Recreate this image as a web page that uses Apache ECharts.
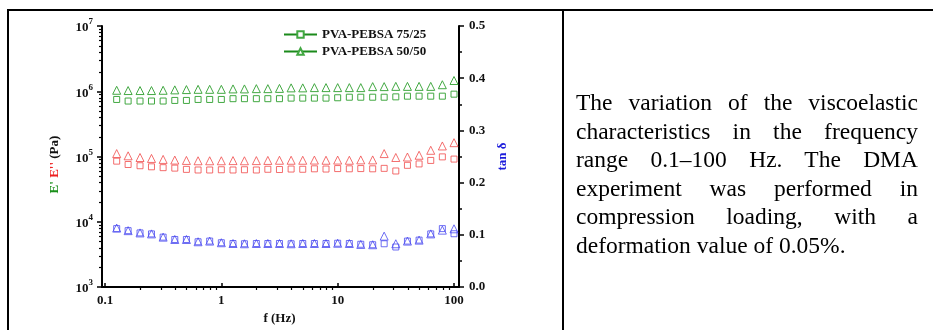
<!DOCTYPE html>
<html>
<head>
<meta charset="utf-8">
<title>DMA frequency sweep</title>
<script src="https://cdn.jsdelivr.net/npm/echarts@6.0.0/dist/echarts.min.js"></script>
<style>
    html, body { margin: 0; padding: 0; background: #fff; }
    #page { position: relative; width: 933px; height: 330px; overflow: hidden; background: #fff; }
    #main { position: absolute; left: 0; top: 0; width: 933px; height: 330px; }
    .rule { position: absolute; background: #000; }
    #caption {
        position: absolute; left: 576px; top: 88px; width: 342px;
        font-family: 'Liberation Serif', 'Times New Roman', serif;
        font-size: 23.5px; line-height: 28.5px; color: #000;
    }
    #caption .ln { display: block; text-align: justify; text-align-last: justify; }
    #caption .last { text-align: left; text-align-last: left; }
</style>
</head>
<body>
<div id="page">
    <div id="main"></div>
    <div class="rule" style="left:7px;top:9px;width:926px;height:2px"></div>
    <div class="rule" style="left:7px;top:9px;width:2px;height:321px"></div>
    <div class="rule" style="left:562px;top:9px;width:2px;height:321px"></div>
    <div id="caption">
        <span class="ln">The variation of the viscoelastic</span>
        <span class="ln">characteristics in the frequency</span>
        <span class="ln">range 0.1–100 Hz. The DMA</span>
        <span class="ln">experiment was performed in</span>
        <span class="ln">compression loading, with a</span>
        <span class="ln last">deformation value of 0.05%.</span>
    </div>
</div>
<script>
// frequency sweep, 10 points per decade (Hz)
var freq = [0.126, 0.158, 0.2, 0.251, 0.316, 0.398, 0.501, 0.631, 0.794, 1,
            1.26, 1.58, 2, 2.51, 3.16, 3.98, 5.01, 6.31, 7.94, 10,
            12.6, 15.8, 20, 25.1, 31.6, 39.8, 50.1, 63.1, 79.4, 100];

// E' storage modulus (Pa)
var storage7525 = [7.2e5, 6.8e5, 6.8e5, 6.8e5, 6.8e5, 6.95e5, 6.95e5, 7.2e5, 7.2e5, 7.2e5,
                   7.4e5, 7.4e5, 7.4e5, 7.4e5, 7.4e5, 7.55e5, 7.55e5, 7.55e5, 7.55e5, 7.65e5,
                   7.8e5, 7.8e5, 7.8e5, 7.8e5, 7.9e5, 8.1e5, 8.1e5, 8.1e5, 8.1e5, 8.7e5];
var storage5050 = [1.0e6, 0.99e6, 0.99e6, 0.99e6, 1.0e6, 1.015e6, 1.025e6, 1.035e6, 1.035e6, 1.035e6,
                   1.05e6, 1.05e6, 1.06e6, 1.06e6, 1.07e6, 1.09e6, 1.09e6, 1.1e6, 1.1e6, 1.1e6,
                   1.1e6, 1.1e6, 1.14e6, 1.14e6, 1.15e6, 1.15e6, 1.15e6, 1.15e6, 1.22e6, 1.42e6];

// E'' loss modulus (Pa)
var loss7525 = [7.9e4, 7.0e4, 6.7e4, 6.45e4, 6.25e4, 6.15e4, 5.88e4, 5.75e4, 5.75e4, 5.8e4,
                5.75e4, 5.8e4, 5.75e4, 5.9e4, 5.85e4, 5.95e4, 5.9e4, 6.0e4, 5.95e4, 6.05e4,
                6.0e4, 6.05e4, 6.0e4, 6.1e4, 5.55e4, 6.8e4, 7.15e4, 8.1e4, 9.2e4, 8.5e4];
var loss5050 = [1.035e5, 9.55e4, 9.0e4, 8.7e4, 8.4e4, 8.2e4, 8.1e4, 8.0e4, 8.0e4, 8.0e4,
                8.05e4, 8.0e4, 8.05e4, 8.1e4, 8.15e4, 8.15e4, 8.15e4, 8.2e4, 8.15e4, 8.2e4,
                8.15e4, 8.25e4, 8.25e4, 1.035e5, 9.0e4, 9.15e4, 9.75e4, 1.165e5, 1.36e5, 1.53e5];

// tan delta
var tan7525 = [0.106, 0.102, 0.0976, 0.0957, 0.0894, 0.0848, 0.0848, 0.0804, 0.0817, 0.0785,
               0.077, 0.0765, 0.077, 0.077, 0.077, 0.0765, 0.077, 0.077, 0.077, 0.0775,
               0.077, 0.0755, 0.0746, 0.0765, 0.0702, 0.0817, 0.0836, 0.0957, 0.106, 0.096];
var tan5050 = [0.107, 0.102, 0.0976, 0.0957, 0.0894, 0.0848, 0.0848, 0.0804, 0.0817, 0.0785,
               0.077, 0.0765, 0.077, 0.077, 0.077, 0.0765, 0.077, 0.077, 0.077, 0.0775,
               0.077, 0.0752, 0.0746, 0.0913, 0.0765, 0.0817, 0.0836, 0.0957, 0.103, 0.1056];

var names = ['PVA-PEBSA 75/25', 'PVA-PEBSA 50/50'];

var serif = "'Liberation Serif', 'Times New Roman', serif";
var green = '#42a842', red = '#f04a4a', blue = '#4a4af0';

function pairs(ys) {
    return freq.map(function (f, i) { return [f, ys[i]]; });
}

function markSeries(name, type, ys, symbol, size, color, yIndex) {
    return {
        name: name,
        type: type,
        xAxisIndex: 0,
        yAxisIndex: yIndex,
        data: pairs(ys),
        symbol: symbol,
        symbolSize: size,
        showSymbol: true,
        lineStyle: { opacity: 0 },
        itemStyle: { color: 'rgba(0,0,0,0)', borderColor: color, borderWidth: 1 },
        emphasis: { disabled: true },
        z: 3
    };
}

function txt(size, extra) {
    var o = { fontFamily: serif, fontWeight: 'bold', color: '#111', fontSize: size };
    for (var k in extra) o[k] = extra[k];
    return o;
}

var chart = echarts.init(document.getElementById('main'), null, { renderer: 'canvas' });

var option = {
    animation: false,
    backgroundColor: 'transparent',
    grid: [
        { left: 105, right: 479, top: 26, bottom: 43 },   // data area (0.1 .. 100 Hz)
        { left: 102, right: 474, top: 26, bottom: 43 }    // frame with both y axes
    ],
    legend: {
        data: names,
        orient: 'vertical',
        left: 278,
        top: 23,
        itemWidth: 33,
        itemHeight: 8,
        itemGap: 4,
        selectedMode: false,
        textStyle: txt(13),
        lineStyle: { color: '#1b8a1b', width: 2, opacity: 1 },
        itemStyle: { color: '#fff' }
    },
    xAxis: [{
        gridIndex: 0,
        type: 'log',
        min: 0.1,
        max: 100,
        splitNumber: 3,
        axisLine: { show: false },
        axisTick: { show: true, length: 5, lineStyle: { color: '#000', width: 1.5 } },
        axisLabel: txt(13, { margin: 11, formatter: function (v) { return String(+v.toPrecision(3)); } }),
        splitLine: { show: false },
        name: 'f (Hz)',
        nameLocation: 'middle',
        nameGap: 24,
        nameTextStyle: txt(13)
    }, {
        gridIndex: 1,
        type: 'value',
        min: 0,
        max: 1,
        axisLine: { show: true, lineStyle: { color: '#000', width: 2 } },
        axisTick: { show: false },
        axisLabel: { show: false },
        splitLine: { show: false }
    }],
    yAxis: [{
        gridIndex: 0, type: 'log', min: 1e3, max: 1e7, show: false
    }, {
        gridIndex: 0, type: 'value', min: 0, max: 0.5, show: false
    }, {
        gridIndex: 1,
        type: 'log',
        position: 'left',
        min: 1e3,
        max: 1e7,
        splitNumber: 4,
        axisLine: { show: true, lineStyle: { color: '#000', width: 2 } },
        axisTick: { show: true, length: 5, lineStyle: { color: '#000', width: 1.5 } },
        splitLine: { show: false },
        axisLabel: {
            margin: 9,
            formatter: function (v) { return '{b|10}{s|' + Math.round(Math.log10(v)) + '}'; },
            rich: {
                b: txt(13, { lineHeight: 17, verticalAlign: 'bottom' }),
                s: txt(9, { lineHeight: 10, verticalAlign: 'top' })
            }
        },
        name: "{g|E'} {r|E''} {k|(Pa)}",
        nameLocation: 'middle',
        nameGap: 41,
        nameTextStyle: txt(13, {
            padding: [0, 16, 0, 0],
            rich: {
                g: txt(13, { color: '#1a8f1a' }),
                r: txt(13, { color: '#ee2020' }),
                k: txt(13)
            }
        })
    }, {
        gridIndex: 1,
        type: 'value',
        position: 'right',
        min: 0,
        max: 0.5,
        interval: 0.1,
        axisLine: { show: true, lineStyle: { color: '#000', width: 2 } },
        axisTick: { show: true, length: 5, lineStyle: { color: '#000', width: 1.5 } },
        minorTick: { show: true, splitNumber: 2, length: 3, lineStyle: { color: '#000', width: 1.5 } },
        splitLine: { show: false },
        axisLabel: txt(13, { margin: 10, formatter: function (v) { return v.toFixed(1); } }),
        name: 'tan δ',
        nameLocation: 'middle',
        nameGap: 37,
        nameTextStyle: txt(13, { color: '#1c1cdc' })
    }],
    series: [
        markSeries(names[0], 'line', storage7525, 'rect', 6, green, 0),
        markSeries(names[1], 'line', storage5050, 'triangle', 8, green, 0),
        markSeries("E'' 75/25", 'scatter', loss7525, 'rect', 6, red, 0),
        markSeries("E'' 50/50", 'scatter', loss5050, 'triangle', 8, red, 0),
        markSeries('tan δ 75/25', 'scatter', tan7525, 'rect', 6, blue, 1),
        markSeries('tan δ 50/50', 'scatter', tan5050, 'triangle', 8, blue, 1)
    ]
};

chart.setOption(option);

// logarithmic minor ticks (2..9 of each decade), placed through the axes' own scales
var mults = [2, 3, 4, 5, 6, 7, 8, 9];
var xDecades = [0.1, 1, 10];
var yDecades = [1e3, 1e4, 1e5, 1e6];
var axisY = chart.convertToPixel({ yAxisIndex: 2 }, 1e3);
var axisX = chart.convertToPixel({ xAxisIndex: 1 }, 0);
var minor = [];
xDecades.forEach(function (d) {
    mults.forEach(function (m) {
        var px = Math.round(chart.convertToPixel({ xAxisIndex: 0 }, d * m)) + 0.5;
        minor.push({ type: 'line', silent: true, z: 10,
            shape: { x1: px, y1: axisY, x2: px, y2: axisY + 3 },
            style: { stroke: '#000', lineWidth: 1.2 } });
    });
});
yDecades.forEach(function (d) {
    mults.forEach(function (m) {
        var py = Math.round(chart.convertToPixel({ yAxisIndex: 2 }, d * m)) + 0.5;
        minor.push({ type: 'line', silent: true, z: 10,
            shape: { x1: axisX - 3, y1: py, x2: axisX, y2: py },
            style: { stroke: '#000', lineWidth: 1.2 } });
    });
});
chart.setOption({ graphic: minor });
</script>
</body>
</html>
